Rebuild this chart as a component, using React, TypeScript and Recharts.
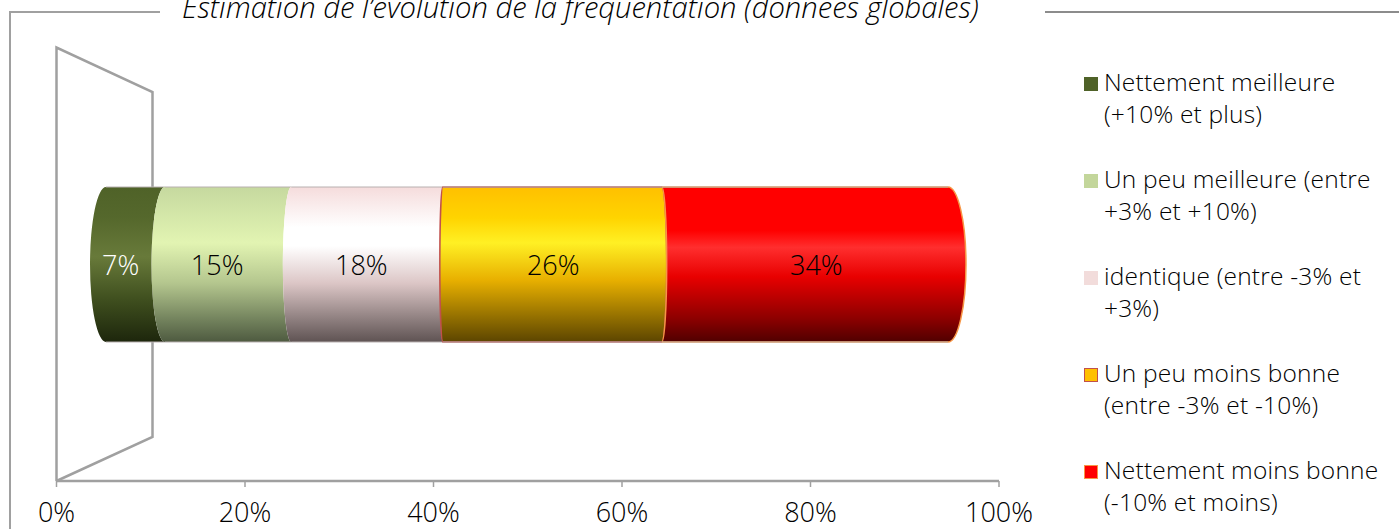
import React from "react";
import {
  BarChart,
  Bar,
  XAxis,
  YAxis,
  Legend,
  LabelList,
} from "recharts";

const CATEGORIES = ["Fréquentation"];
const SERIES_KEYS = ["nettement", "peuMieux", "identique", "peuMoins", "moinsBonne"];
const SERIES_NAMES = [
  "Nettement meilleure (+10% et plus)",
  "Un peu meilleure (entre +3% et +10%)",
  "identique (entre -3% et +3%)",
  "Un peu moins bonne (entre -3% et -10%)",
  "Nettement moins bonne (-10% et moins)",
];
const LEGEND_LINES = [
  ["Nettement meilleure", "(+10% et plus)"],
  ["Un peu meilleure (entre", "+3% et +10%)"],
  ["identique (entre -3% et", "+3%)"],
  ["Un peu moins bonne", "(entre -3% et -10%)"],
  ["Nettement moins bonne", "(-10% et moins)"],
];
const SERIES_VALUES = [7, 15, 18, 26, 34];
const X_TICKS = [0, 20, 40, 60, 80, 100];

const TITLE = "Estimation de l’évolution de la fréquentation (données globales)";
const FONT = '"Open Sans", "Noto Sans", sans-serif';
const GREY = "#a0a0a0";

// legend swatch, border, label colour, gradient stops (offset, colour)
const STYLES = [
  { fill: "#4f6228", stroke: "none", label: "#ffffff", stops: [[0, "#4f6228"], [0.2, "#55682c"], [0.45, "#687a3a"], [0.72, "#40501f"], [1, "#1d260c"]] },
  { fill: "#c3d69b", stroke: "none", label: "#000000", stops: [[0, "#c6d99f"], [0.36, "#e2f4b2"], [0.62, "#b4c68e"], [0.85, "#74845e"], [1, "#4e5a40"]] },
  { fill: "#f2dcdb", stroke: "none", label: "#000000", stops: [[0, "#f5dcdc"], [0.26, "#ffffff"], [0.38, "#ffffff"], [0.62, "#dcc6c6"], [0.85, "#8f8080"], [1, "#5f5353"]] },
  { fill: "#ffc000", stroke: "#c0504d", label: "#000000", stops: [[0, "#ffc000"], [0.2, "#ffd400"], [0.36, "#fff024"], [0.6, "#e8b000"], [0.86, "#8c6a00"], [1, "#5c4500"]] },
  { fill: "#ff0000", stroke: "#f79646", label: "#000000", stops: [[0, "#ff0000"], [0.28, "#ff0000"], [0.39, "#ff2e2e"], [0.58, "#e80000"], [0.85, "#8c0000"], [1, "#500000"]] },
];

const row: Record<string, string | number> = { name: CATEGORIES[0] };
SERIES_KEYS.forEach((k, i) => {
  row[k] = SERIES_VALUES[i];
});
const data = [row];

// the cylinder is seen in perspective: ends bend away from the vanishing point
function bulge(x: number) {
  if (x < 552) return -16 * Math.pow((552 - x) / 446, 1.2);
  return (18 * (x - 552)) / 396;
}

function Cylinder(props: any) {
  const { x, y, width, height, index } = props;
  const i = props.seriesIndex as number;
  const xr = x + width;
  const bl = bulge(x);
  const br = bulge(xr);
  const bottom = y + height;
  const rxl = Math.abs(bl);
  const rxr = Math.abs(br);
  const d = [
    `M${x},${y}`,
    `L${xr},${y}`,
    `A${rxr},${height / 2} 0 0 ${br > 0 ? 1 : 0} ${xr},${bottom}`,
    `L${x},${bottom}`,
    `A${rxl},${height / 2} 0 0 ${bl > 0 ? 0 : 1} ${x},${y}`,
    "Z",
  ].join(" ");
  const s = STYLES[i];
  return (
    <g key={index}>
      <path
        d={d}
        fill={`url(#cyl-${i})`}
        stroke={s.stroke}
        strokeWidth={s.stroke === "none" ? 0 : 1.5}
      />
      <path d={`M${x},${y} L${xr},${y} M${x},${bottom} L${xr},${bottom}`} stroke="#b8b0b0" strokeWidth={1} />
    </g>
  );
}

function BarLabel(props: any) {
  const { x, y, width, height, value } = props;
  const i = props.seriesIndex as number;
  const mid = (x + bulge(x) + x + width + bulge(x + width)) / 2;
  return (
    <text
      x={mid}
      y={y + height / 2 + 10}
      textAnchor="middle"
      fontFamily={FONT}
      fontSize={27}
      fontWeight={300}
      fill={STYLES[i].label}
    >
      {value}%
    </text>
  );
}

function ChartLegend() {
  return (
    <div style={{ position: "absolute", left: 1084, top: 66, fontFamily: FONT, fontSize: 24.5, fontWeight: 300, letterSpacing: 0.2, lineHeight: "32px", color: "#000" }}>
      {LEGEND_LINES.map((lines, i) => (
        <div key={SERIES_NAMES[i]} style={{ position: "relative", paddingLeft: 20, height: 64, marginBottom: 33, whiteSpace: "nowrap" }}>
          <span
            style={{
              position: "absolute",
              left: 0,
              top: 11,
              width: 14,
              height: 14,
              boxSizing: "border-box",
              background: STYLES[i].fill,
              border: STYLES[i].stroke === "none" ? "none" : `1px solid ${STYLES[i].stroke}`,
            }}
          />
          {lines.map((l) => (
            <div key={l}>{l}</div>
          ))}
        </div>
      ))}
    </div>
  );
}

export default function App() {
  return (
    <div style={{ position: "fixed", left: 0, top: 0, width: 1399, height: 529, overflow: "hidden", background: "#fff" }}>
      {/* cadre autour du graphique */}
      <div style={{ position: "absolute", left: 9, top: 11, width: 151, height: 2, background: GREY }} />
      <div style={{ position: "absolute", left: 9, top: 11, width: 2, height: 518, background: GREY }} />
      <div style={{ position: "absolute", left: 1045, top: 11, width: 354, height: 2, background: "#8c8c8c" }} />
      <div
        style={{
          position: "absolute",
          left: 182,
          top: -13,
          fontFamily: FONT,
          fontStyle: "italic",
          fontWeight: 300,
          fontSize: 29.2,
          color: "#000",
          whiteSpace: "nowrap",
        }}
      >
        {TITLE}
      </div>

      {/* paroi 3D */}
      <svg width={1399} height={529} style={{ position: "absolute", left: 0, top: 0 }}>
        <path d="M56.5,481 L56.5,47.5 L152.5,92 L152.5,437 L56.5,481" fill="none" stroke={GREY} strokeWidth={2.5} />
      </svg>

      <div style={{ position: "absolute", left: 0, top: 0 }}>
        <BarChart
          width={1399}
          height={529}
          data={data}
          layout="vertical"
          margin={{ top: 48, right: 400, left: 56.5, bottom: 0 }}
          barCategoryGap={0}
        >
          <defs>
            {STYLES.map((s, i) => (
              <linearGradient key={i} id={`cyl-${i}`} x1="0" y1="0" x2="0" y2="1">
                {s.stops.map(([o, c]) => (
                  <stop key={String(o)} offset={o as number} stopColor={c as string} />
                ))}
              </linearGradient>
            ))}
          </defs>
          <XAxis
            type="number"
            domain={[0, 100]}
            ticks={X_TICKS}
            tickFormatter={(v: number) => `${v}%`}
            height={48}
            tickSize={6}
            tickMargin={16}
            interval={0}
            axisLine={{ stroke: GREY, strokeWidth: 2.5 }}
            tickLine={{ stroke: GREY, strokeWidth: 1.5 }}
            tick={{ fontFamily: FONT, fontSize: 27, fontWeight: 300, fill: "#000" }}
          />
          {/* les barres sont en perspective : échelle plus serrée que l'axe affiché */}
          <XAxis xAxisId="bars" type="number" domain={[-5.88, 106.06]} hide allowDataOverflow />
          <YAxis type="category" dataKey="name" hide />
          <YAxis yAxisId="axisRow" type="category" dataKey="name" hide />
          <Legend content={<ChartLegend />} wrapperStyle={{ position: "static" }} />
          {/* série vide : garde l'axe visible attaché à une série */}
          <Bar dataKey={() => 0} yAxisId="axisRow" fill="none" legendType="none" isAnimationActive={false} />
          {SERIES_KEYS.map((k, i) => (
            <Bar
              key={k}
              dataKey={k}
              name={SERIES_NAMES[i]}
              stackId="a"
              xAxisId="bars"
              barSize={155}
              isAnimationActive={false}
              shape={(p: any) => <Cylinder {...p} seriesIndex={i} />}
            >
              <LabelList dataKey={k} content={(p: any) => <BarLabel {...p} seriesIndex={i} />} />
            </Bar>
          ))}
        </BarChart>
      </div>
    </div>
  );
}
